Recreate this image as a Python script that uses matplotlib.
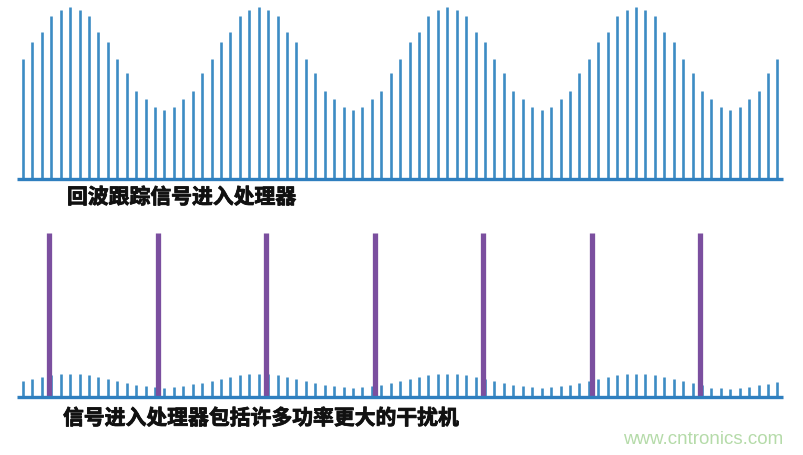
import matplotlib
matplotlib.use("Agg")
import matplotlib.pyplot as plt
import matplotlib.patheffects as pe
import numpy as np

plt.rcParams['font.family'] = ['Noto Sans CJK SC', 'DejaVu Sans']

# echo tracking signal amplitudes (top panel), one stem per sample
echo = [120, 137, 147, 163, 169, 172, 169, 163, 147, 137, 120, 106, 88, 80, 72, 69, 72, 80, 88, 106,
        120, 137, 147, 163, 169, 172, 169, 163, 147, 137, 120, 106, 88, 80, 72, 69, 72, 80, 88, 106,
        120, 137, 147, 163, 169, 172, 169, 163, 147, 137, 120, 106, 88, 80, 72, 69, 72, 80, 88, 106,
        120, 137, 147, 163, 169, 172, 169, 163, 147, 137, 120, 106, 88, 80, 72, 69, 72, 80, 88, 106,
        120]

# same echo as seen next to the jammers (bottom panel)
echo_small = [16, 18, 20, 22, 23, 23.3, 23, 22, 20, 18, 16, 14, 12, 11, 10, 9, 10, 11, 13, 14,
              16, 18, 20, 22, 23, 23.3, 23, 22, 20, 18, 16, 14, 12, 11, 10, 9.3, 10, 11, 12, 14,
              16, 18, 20, 22, 23, 23.3, 23, 22, 20, 18, 16, 14, 12, 11, 10, 9.3, 10, 11, 12, 14,
              16, 18, 20, 22, 23, 23.3, 23, 22, 20, 18, 16, 14, 12, 9, 9, 8.5, 9, 10.5, 12, 13.5,
              15]

# jammer pulses: positions (in sample units) and height
jam_pos = [2.8, 14.3, 25.8, 37.3, 48.75, 60.3, 71.8]
jam_height = 164

label_top = "回波跟踪信号进入处理器"
label_bottom = "信号进入处理器包括许多功率更大的干扰机"
watermark = "www.cntronics.com"

W, H = 804, 455
fig = plt.figure(figsize=(W / 100, H / 100), dpi=100)
fig.patch.set_facecolor("white")

x = np.arange(len(echo))
xlim = (-23 / 9.43, (W - 23) / 9.43)
blue = "#3d8cc4"
base_blue = "#2f7fbf"
purple = "#7b4f9f"

# top panel
ax1 = fig.add_axes([0, 265 / H, 1, 190 / H])
ax1.vlines(x, 0, echo, color=blue, linewidth=1.9)
ax1.hlines(0, -0.6, 80.6, color=base_blue, linewidth=2.4)
ax1.set_xlim(*xlim)
ax1.set_ylim(-11, 179)
ax1.axis("off")

# bottom panel
ax2 = fig.add_axes([0, 45 / H, 1, 185 / H])
ax2.vlines(x, 0, echo_small, color=blue, linewidth=1.9)
ax2.vlines(jam_pos, 0, jam_height, color=purple, linewidth=3.8)
ax2.hlines(0, -0.6, 80.6, color=base_blue, linewidth=2.4)
ax2.set_xlim(*xlim)
ax2.set_ylim(-13, 172)
ax2.axis("off")

heavy = [pe.withStroke(linewidth=0.6, foreground="#111111")]
fig.text(67 / W, 1 - 197 / H, label_top, fontsize=15, fontweight="bold",
         color="#111111", ha="left", va="center", path_effects=heavy)
fig.text(63 / W, 1 - 418 / H, label_bottom, fontsize=15, fontweight="bold",
         color="#111111", ha="left", va="center", path_effects=heavy)
fig.text(703 / W, 1 - 440 / H, watermark, fontsize=13.5, color="#b5dba9",
         family=["Liberation Sans", "DejaVu Sans"], ha="center", va="center")

fig.savefig("out.png", dpi=100)
